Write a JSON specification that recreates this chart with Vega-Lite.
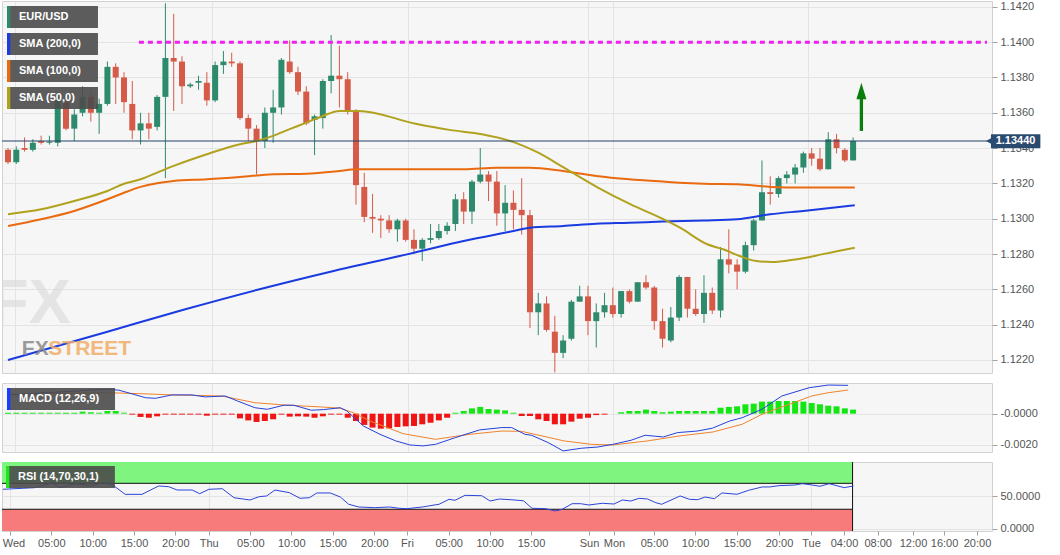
{
  "$schema": "https://vega.github.io/schema/vega-lite/v6.json",
  "background": "#ffffff",
  "padding": 0,
  "spacing": 10,
  "bounds": "flush",
  "config": {
    "font": "Liberation Sans",
    "view": {"fill": "#f6f6f6", "stroke": "#d2d2d2"},
    "axis": {"title": null, "labelColor": "#555555", "labelFontSize": 11, "labelFont": "Liberation Sans", "tickColor": "#a0a0a0", "tickSize": 5, "gridColor": "#e4e4e4", "domain": false, "labelPadding": 3, "labelOverlap": false}
  },
  "resolve": {"scale": {"color": "independent"}, "legend": {"color": "independent"}},
  "datasets": {
    "candles": [
      {"k": 0, "o": 1.1339, "h": 1.1340, "l": 1.1331, "c": 1.1332},
      {"k": 1, "o": 1.1332, "h": 1.1341, "l": 1.1331, "c": 1.1339},
      {"k": 2, "o": 1.1340, "h": 1.1346, "l": 1.1338, "c": 1.1339},
      {"k": 3, "o": 1.1339, "h": 1.1345, "l": 1.1338, "c": 1.1343},
      {"k": 4, "o": 1.1344, "h": 1.1347, "l": 1.1342, "c": 1.1343},
      {"k": 5, "o": 1.1343, "h": 1.1347, "l": 1.1342, "c": 1.13436},
      {"k": 6, "o": 1.1343, "h": 1.1372, "l": 1.1341, "c": 1.1369},
      {"k": 7, "o": 1.1366, "h": 1.1368, "l": 1.1350, "c": 1.1351},
      {"k": 8, "o": 1.1351, "h": 1.1362, "l": 1.1344, "c": 1.1359},
      {"k": 9, "o": 1.1360, "h": 1.1375, "l": 1.1358, "c": 1.1369},
      {"k": 10, "o": 1.1369, "h": 1.1373, "l": 1.1355, "c": 1.1360},
      {"k": 11, "o": 1.1360, "h": 1.1368, "l": 1.1348, "c": 1.1365},
      {"k": 12, "o": 1.1365, "h": 1.1389, "l": 1.1364, "c": 1.1386},
      {"k": 13, "o": 1.1386, "h": 1.1388, "l": 1.1365, "c": 1.1380},
      {"k": 14, "o": 1.1380, "h": 1.1383, "l": 1.1360, "c": 1.1366},
      {"k": 15, "o": 1.1365, "h": 1.1378, "l": 1.1345, "c": 1.1350},
      {"k": 16, "o": 1.1350, "h": 1.1360, "l": 1.1342, "c": 1.1354},
      {"k": 17, "o": 1.1354, "h": 1.1360, "l": 1.1345, "c": 1.1351},
      {"k": 18, "o": 1.1352, "h": 1.1370, "l": 1.1350, "c": 1.1369},
      {"k": 19, "o": 1.1369, "h": 1.1422, "l": 1.1323, "c": 1.1391},
      {"k": 20, "o": 1.1391, "h": 1.1416, "l": 1.1361, "c": 1.1389},
      {"k": 21, "o": 1.1389, "h": 1.1392, "l": 1.1365, "c": 1.1375},
      {"k": 22, "o": 1.1375, "h": 1.1377, "l": 1.1374, "c": 1.1376},
      {"k": 23, "o": 1.1377, "h": 1.1381, "l": 1.1373, "c": 1.1378},
      {"k": 24, "o": 1.1377, "h": 1.1383, "l": 1.1364, "c": 1.1367},
      {"k": 25, "o": 1.1367, "h": 1.1389, "l": 1.1366, "c": 1.1387},
      {"k": 26, "o": 1.1387, "h": 1.1395, "l": 1.1382, "c": 1.1389},
      {"k": 27, "o": 1.1389, "h": 1.1394, "l": 1.1386, "c": 1.1388},
      {"k": 28, "o": 1.1388, "h": 1.1389, "l": 1.1356, "c": 1.1357},
      {"k": 29, "o": 1.1357, "h": 1.1359, "l": 1.1344, "c": 1.1351},
      {"k": 30, "o": 1.1351, "h": 1.1353, "l": 1.1325, "c": 1.1344},
      {"k": 31, "o": 1.1344, "h": 1.1363, "l": 1.1340, "c": 1.1360},
      {"k": 32, "o": 1.1360, "h": 1.1373, "l": 1.1343, "c": 1.1363},
      {"k": 33, "o": 1.1363, "h": 1.1391, "l": 1.1359, "c": 1.1390},
      {"k": 34, "o": 1.1389, "h": 1.1401, "l": 1.1382, "c": 1.1383},
      {"k": 35, "o": 1.1383, "h": 1.1386, "l": 1.1370, "c": 1.1372},
      {"k": 36, "o": 1.1372, "h": 1.1375, "l": 1.1353, "c": 1.1354},
      {"k": 37, "o": 1.1356, "h": 1.1359, "l": 1.1336, "c": 1.1358},
      {"k": 38, "o": 1.1357, "h": 1.1379, "l": 1.1351, "c": 1.1378},
      {"k": 39, "o": 1.1378, "h": 1.1404, "l": 1.1371, "c": 1.1381},
      {"k": 40, "o": 1.1381, "h": 1.1398, "l": 1.1363, "c": 1.1379},
      {"k": 41, "o": 1.1379, "h": 1.1383, "l": 1.1359, "c": 1.1361},
      {"k": 42, "o": 1.1361, "h": 1.1362, "l": 1.1308, "c": 1.1319},
      {"k": 43, "o": 1.1318, "h": 1.1326, "l": 1.1298, "c": 1.1301},
      {"k": 44, "o": 1.1301, "h": 1.1314, "l": 1.1292, "c": 1.1300},
      {"k": 45, "o": 1.1300, "h": 1.1302, "l": 1.1289, "c": 1.1299},
      {"k": 46, "o": 1.1299, "h": 1.1302, "l": 1.1292, "c": 1.1294},
      {"k": 47, "o": 1.1294, "h": 1.1300, "l": 1.1287, "c": 1.1299},
      {"k": 48, "o": 1.1299, "h": 1.1300, "l": 1.1287, "c": 1.1288},
      {"k": 49, "o": 1.1288, "h": 1.1294, "l": 1.1281, "c": 1.1283},
      {"k": 50, "o": 1.1283, "h": 1.1289, "l": 1.1276, "c": 1.1288},
      {"k": 51, "o": 1.1288, "h": 1.1297, "l": 1.1286, "c": 1.1289},
      {"k": 52, "o": 1.1289, "h": 1.1297, "l": 1.1288, "c": 1.1293},
      {"k": 53, "o": 1.1293, "h": 1.1298, "l": 1.1291, "c": 1.1296},
      {"k": 54, "o": 1.1297, "h": 1.1314, "l": 1.1293, "c": 1.1311},
      {"k": 55, "o": 1.1311, "h": 1.1315, "l": 1.1297, "c": 1.1304},
      {"k": 56, "o": 1.1304, "h": 1.1322, "l": 1.1297, "c": 1.1321},
      {"k": 57, "o": 1.1321, "h": 1.1340, "l": 1.1320, "c": 1.1325},
      {"k": 58, "o": 1.1325, "h": 1.1327, "l": 1.1310, "c": 1.1321},
      {"k": 59, "o": 1.1321, "h": 1.1327, "l": 1.1296, "c": 1.1303},
      {"k": 60, "o": 1.1303, "h": 1.1319, "l": 1.1293, "c": 1.1309},
      {"k": 61, "o": 1.1309, "h": 1.1316, "l": 1.1294, "c": 1.1305},
      {"k": 62, "o": 1.1305, "h": 1.1323, "l": 1.1291, "c": 1.1302},
      {"k": 63, "o": 1.1302, "h": 1.1305, "l": 1.1238, "c": 1.1247},
      {"k": 64, "o": 1.1247, "h": 1.1258, "l": 1.1234, "c": 1.1252},
      {"k": 65, "o": 1.1252, "h": 1.1256, "l": 1.1236, "c": 1.1237},
      {"k": 66, "o": 1.1236, "h": 1.1245, "l": 1.1213, "c": 1.1224},
      {"k": 67, "o": 1.1224, "h": 1.1234, "l": 1.1221, "c": 1.1231},
      {"k": 68, "o": 1.1232, "h": 1.1254, "l": 1.1231, "c": 1.1253},
      {"k": 69, "o": 1.1253, "h": 1.1262, "l": 1.1253, "c": 1.1256},
      {"k": 70, "o": 1.1256, "h": 1.1262, "l": 1.1234, "c": 1.1242},
      {"k": 71, "o": 1.1242, "h": 1.1252, "l": 1.1227, "c": 1.1247},
      {"k": 72, "o": 1.1247, "h": 1.1258, "l": 1.1244, "c": 1.1251},
      {"k": 73, "o": 1.1251, "h": 1.1261, "l": 1.1244, "c": 1.1246},
      {"k": 74, "o": 1.1246, "h": 1.1259, "l": 1.1244, "c": 1.1259},
      {"k": 75, "o": 1.1259, "h": 1.1260, "l": 1.1252, "c": 1.1253},
      {"k": 76, "o": 1.1253, "h": 1.1264, "l": 1.1253, "c": 1.1264},
      {"k": 77, "o": 1.1264, "h": 1.1268, "l": 1.1260, "c": 1.1261},
      {"k": 78, "o": 1.1261, "h": 1.1262, "l": 1.1237, "c": 1.1242},
      {"k": 79, "o": 1.1242, "h": 1.1249, "l": 1.1227, "c": 1.1232},
      {"k": 80, "o": 1.1231, "h": 1.1250, "l": 1.1230, "c": 1.1244},
      {"k": 81, "o": 1.1244, "h": 1.1268, "l": 1.1242, "c": 1.1267},
      {"k": 82, "o": 1.1267, "h": 1.1267, "l": 1.1244, "c": 1.1249},
      {"k": 83, "o": 1.1249, "h": 1.1260, "l": 1.1245, "c": 1.1246},
      {"k": 84, "o": 1.1246, "h": 1.1268, "l": 1.1241, "c": 1.1258},
      {"k": 85, "o": 1.1258, "h": 1.1261, "l": 1.1246, "c": 1.1248},
      {"k": 86, "o": 1.1248, "h": 1.1284, "l": 1.1244, "c": 1.1277},
      {"k": 87, "o": 1.1277, "h": 1.1294, "l": 1.1269, "c": 1.1274},
      {"k": 88, "o": 1.1274, "h": 1.1277, "l": 1.1260, "c": 1.1270},
      {"k": 89, "o": 1.1270, "h": 1.1287, "l": 1.1269, "c": 1.1285},
      {"k": 90, "o": 1.1285, "h": 1.1300, "l": 1.1282, "c": 1.1299},
      {"k": 91, "o": 1.1299, "h": 1.1333, "l": 1.1299, "c": 1.1315},
      {"k": 92, "o": 1.1315, "h": 1.1324, "l": 1.1308, "c": 1.1314},
      {"k": 93, "o": 1.1314, "h": 1.1324, "l": 1.1312, "c": 1.1323},
      {"k": 94, "o": 1.1323, "h": 1.1327, "l": 1.1320, "c": 1.1325},
      {"k": 95, "o": 1.1325, "h": 1.1331, "l": 1.1320, "c": 1.1329},
      {"k": 96, "o": 1.1329, "h": 1.1338, "l": 1.1326, "c": 1.1337},
      {"k": 97, "o": 1.1337, "h": 1.1340, "l": 1.1330, "c": 1.1334},
      {"k": 98, "o": 1.1334, "h": 1.1340, "l": 1.1327, "c": 1.1328},
      {"k": 99, "o": 1.1328, "h": 1.1349, "l": 1.1328, "c": 1.1345},
      {"k": 100, "o": 1.1345, "h": 1.1348, "l": 1.1337, "c": 1.1340},
      {"k": 101, "o": 1.1339, "h": 1.1340, "l": 1.1332, "c": 1.1333},
      {"k": 102, "o": 1.1333, "h": 1.1346, "l": 1.1333, "c": 1.1344}
    ],
    "sma": [
      {"series": "SMA (200,0)", "k": 0, "v": 1.1220},
      {"series": "SMA (200,0)", "k": 12, "v": 1.1236},
      {"series": "SMA (200,0)", "k": 21.4, "v": 1.12487},
      {"series": "SMA (200,0)", "k": 30, "v": 1.12596},
      {"series": "SMA (200,0)", "k": 39.3, "v": 1.12704},
      {"series": "SMA (200,0)", "k": 49, "v": 1.12807},
      {"series": "SMA (200,0)", "k": 55, "v": 1.12874},
      {"series": "SMA (200,0)", "k": 61, "v": 1.1293},
      {"series": "SMA (200,0)", "k": 63, "v": 1.12949},
      {"series": "SMA (200,0)", "k": 67, "v": 1.12959},
      {"series": "SMA (200,0)", "k": 71, "v": 1.12972},
      {"series": "SMA (200,0)", "k": 75, "v": 1.12977},
      {"series": "SMA (200,0)", "k": 79, "v": 1.12984},
      {"series": "SMA (200,0)", "k": 84, "v": 1.1299},
      {"series": "SMA (200,0)", "k": 88, "v": 1.12997},
      {"series": "SMA (200,0)", "k": 92, "v": 1.13025},
      {"series": "SMA (200,0)", "k": 96, "v": 1.13044},
      {"series": "SMA (200,0)", "k": 102.2, "v": 1.13076},
      {"series": "SMA (100,0)", "k": 0, "v": 1.12959},
      {"series": "SMA (100,0)", "k": 4, "v": 1.12997},
      {"series": "SMA (100,0)", "k": 8, "v": 1.13044},
      {"series": "SMA (100,0)", "k": 12, "v": 1.1311},
      {"series": "SMA (100,0)", "k": 14, "v": 1.13147},
      {"series": "SMA (100,0)", "k": 16, "v": 1.1318},
      {"series": "SMA (100,0)", "k": 18, "v": 1.13201},
      {"series": "SMA (100,0)", "k": 20, "v": 1.13214},
      {"series": "SMA (100,0)", "k": 24, "v": 1.13223},
      {"series": "SMA (100,0)", "k": 28, "v": 1.13236},
      {"series": "SMA (100,0)", "k": 32, "v": 1.13252},
      {"series": "SMA (100,0)", "k": 36, "v": 1.13255},
      {"series": "SMA (100,0)", "k": 40, "v": 1.1327},
      {"series": "SMA (100,0)", "k": 42, "v": 1.1328},
      {"series": "SMA (100,0)", "k": 47, "v": 1.1328},
      {"series": "SMA (100,0)", "k": 55, "v": 1.1328},
      {"series": "SMA (100,0)", "k": 59, "v": 1.13289},
      {"series": "SMA (100,0)", "k": 63, "v": 1.13289},
      {"series": "SMA (100,0)", "k": 67, "v": 1.1327},
      {"series": "SMA (100,0)", "k": 71, "v": 1.13242},
      {"series": "SMA (100,0)", "k": 75, "v": 1.13223},
      {"series": "SMA (100,0)", "k": 79, "v": 1.1321},
      {"series": "SMA (100,0)", "k": 81, "v": 1.13204},
      {"series": "SMA (100,0)", "k": 84, "v": 1.13198},
      {"series": "SMA (100,0)", "k": 88, "v": 1.13195},
      {"series": "SMA (100,0)", "k": 92, "v": 1.1318},
      {"series": "SMA (100,0)", "k": 96, "v": 1.13176},
      {"series": "SMA (100,0)", "k": 102.2, "v": 1.13176},
      {"series": "SMA (50,0)", "k": 0, "v": 1.13025},
      {"series": "SMA (50,0)", "k": 4, "v": 1.13053},
      {"series": "SMA (50,0)", "k": 8, "v": 1.1310},
      {"series": "SMA (50,0)", "k": 12, "v": 1.13157},
      {"series": "SMA (50,0)", "k": 14, "v": 1.13198},
      {"series": "SMA (50,0)", "k": 16, "v": 1.13223},
      {"series": "SMA (50,0)", "k": 18, "v": 1.13261},
      {"series": "SMA (50,0)", "k": 20, "v": 1.13299},
      {"series": "SMA (50,0)", "k": 24, "v": 1.13365},
      {"series": "SMA (50,0)", "k": 28, "v": 1.13422},
      {"series": "SMA (50,0)", "k": 30, "v": 1.1344},
      {"series": "SMA (50,0)", "k": 32, "v": 1.13469},
      {"series": "SMA (50,0)", "k": 34, "v": 1.13507},
      {"series": "SMA (50,0)", "k": 36, "v": 1.13544},
      {"series": "SMA (50,0)", "k": 38, "v": 1.13582},
      {"series": "SMA (50,0)", "k": 40, "v": 1.1361},
      {"series": "SMA (50,0)", "k": 42.3, "v": 1.1361},
      {"series": "SMA (50,0)", "k": 49.2, "v": 1.13538},
      {"series": "SMA (50,0)", "k": 53.3, "v": 1.13503},
      {"series": "SMA (50,0)", "k": 57.2, "v": 1.13478},
      {"series": "SMA (50,0)", "k": 61.2, "v": 1.13431},
      {"series": "SMA (50,0)", "k": 64, "v": 1.13374},
      {"series": "SMA (50,0)", "k": 67.1, "v": 1.13289},
      {"series": "SMA (50,0)", "k": 71.2, "v": 1.13176},
      {"series": "SMA (50,0)", "k": 75.1, "v": 1.13082},
      {"series": "SMA (50,0)", "k": 79.1, "v": 1.12997},
      {"series": "SMA (50,0)", "k": 81.1, "v": 1.12949},
      {"series": "SMA (50,0)", "k": 84.4, "v": 1.12855},
      {"series": "SMA (50,0)", "k": 86.3, "v": 1.12827},
      {"series": "SMA (50,0)", "k": 88.3, "v": 1.12789},
      {"series": "SMA (50,0)", "k": 90.3, "v": 1.1276},
      {"series": "SMA (50,0)", "k": 92.2, "v": 1.12755},
      {"series": "SMA (50,0)", "k": 94.3, "v": 1.12764},
      {"series": "SMA (50,0)", "k": 96.3, "v": 1.12779},
      {"series": "SMA (50,0)", "k": 98.2, "v": 1.12798},
      {"series": "SMA (50,0)", "k": 100.2, "v": 1.12817},
      {"series": "SMA (50,0)", "k": 102.2, "v": 1.12836}
    ],
    "macd": [
      {"series": "MACD", "k": 0, "v": 0.0012},
      {"series": "MACD", "k": 12, "v": 0.00156},
      {"series": "MACD", "k": 13.4, "v": 0.0015},
      {"series": "MACD", "k": 16.6, "v": 0.00102},
      {"series": "MACD", "k": 17.8, "v": 0.00098},
      {"series": "MACD", "k": 19.8, "v": 0.0012},
      {"series": "MACD", "k": 22.2, "v": 0.0012},
      {"series": "MACD", "k": 23.8, "v": 0.00107},
      {"series": "MACD", "k": 26.2, "v": 0.00113},
      {"series": "MACD", "k": 27.7, "v": 0.00081},
      {"series": "MACD", "k": 29.8, "v": 0.00038},
      {"series": "MACD", "k": 31.3, "v": 0.00028},
      {"series": "MACD", "k": 33.3, "v": 0.00054},
      {"series": "MACD", "k": 34.5, "v": 0.00054},
      {"series": "MACD", "k": 36.6, "v": 0.00022},
      {"series": "MACD", "k": 38.1, "v": 0.00026},
      {"series": "MACD", "k": 40.1, "v": 0.00038},
      {"series": "MACD", "k": 40.9, "v": 0.00017},
      {"series": "MACD", "k": 42.9, "v": -0.00079},
      {"series": "MACD", "k": 44.9, "v": -0.00132},
      {"series": "MACD", "k": 46.8, "v": -0.00174},
      {"series": "MACD", "k": 48.5, "v": -0.002},
      {"series": "MACD", "k": 50.1, "v": -0.00206},
      {"series": "MACD", "k": 51.6, "v": -0.00196},
      {"series": "MACD", "k": 54, "v": -0.00153},
      {"series": "MACD", "k": 56.9, "v": -0.00104},
      {"series": "MACD", "k": 59.6, "v": -0.00089},
      {"series": "MACD", "k": 60.8, "v": -0.00089},
      {"series": "MACD", "k": 62.4, "v": -0.00132},
      {"series": "MACD", "k": 63.2, "v": -0.00138},
      {"series": "MACD", "k": 65.2, "v": -0.00185},
      {"series": "MACD", "k": 67, "v": -0.00238},
      {"series": "MACD", "k": 69.2, "v": -0.00221},
      {"series": "MACD", "k": 71.2, "v": -0.00213},
      {"series": "MACD", "k": 73, "v": -0.00196},
      {"series": "MACD", "k": 75.2, "v": -0.0017},
      {"series": "MACD", "k": 76.9, "v": -0.00138},
      {"series": "MACD", "k": 79.1, "v": -0.00149},
      {"series": "MACD", "k": 80.8, "v": -0.00121},
      {"series": "MACD", "k": 83.2, "v": -0.00111},
      {"series": "MACD", "k": 85, "v": -0.00093},
      {"series": "MACD", "k": 87.1, "v": -0.00047},
      {"series": "MACD", "k": 88.6, "v": -0.00026},
      {"series": "MACD", "k": 91, "v": 0.00028},
      {"series": "MACD", "k": 93.4, "v": 0.00113},
      {"series": "MACD", "k": 96.7, "v": 0.00166},
      {"series": "MACD", "k": 99, "v": 0.00183},
      {"series": "MACD", "k": 101.4, "v": 0.00181},
      {"series": "Signal", "k": 0, "v": 0.0012},
      {"series": "Signal", "k": 12, "v": 0.00134},
      {"series": "Signal", "k": 15.8, "v": 0.00128},
      {"series": "Signal", "k": 19.8, "v": 0.0012},
      {"series": "Signal", "k": 25.8, "v": 0.00113},
      {"series": "Signal", "k": 29.8, "v": 0.0007},
      {"series": "Signal", "k": 33.7, "v": 0.00054},
      {"series": "Signal", "k": 37.8, "v": 0.00043},
      {"series": "Signal", "k": 40.1, "v": 0.00035},
      {"series": "Signal", "k": 41.7, "v": 0.00006},
      {"series": "Signal", "k": 43.7, "v": -0.00047},
      {"series": "Signal", "k": 47.7, "v": -0.00128},
      {"series": "Signal", "k": 51.6, "v": -0.00164},
      {"series": "Signal", "k": 55.7, "v": -0.00132},
      {"series": "Signal", "k": 59.6, "v": -0.00111},
      {"series": "Signal", "k": 62, "v": -0.00113},
      {"series": "Signal", "k": 67.1, "v": -0.00174},
      {"series": "Signal", "k": 70.4, "v": -0.00196},
      {"series": "Signal", "k": 73, "v": -0.002},
      {"series": "Signal", "k": 77.2, "v": -0.00174},
      {"series": "Signal", "k": 81.1, "v": -0.00142},
      {"series": "Signal", "k": 85.1, "v": -0.00117},
      {"series": "Signal", "k": 88.6, "v": -0.00068},
      {"series": "Signal", "k": 91, "v": -0.00004},
      {"series": "Signal", "k": 94.3, "v": 0.0006},
      {"series": "Signal", "k": 97, "v": 0.00113},
      {"series": "Signal", "k": 99, "v": 0.00134},
      {"series": "Signal", "k": 101.4, "v": 0.00151}
    ],
    "hist": [
      {"k": 0, "v": 0.00006}, {"k": 1, "v": 0.00006}, {"k": 2, "v": 0.00006}, {"k": 3, "v": 0.00006},
      {"k": 4, "v": 0.00006}, {"k": 5, "v": 0.00006}, {"k": 6, "v": 0.00006}, {"k": 7, "v": 0.00006},
      {"k": 8, "v": 0.00006}, {"k": 9, "v": 0.00013}, {"k": 10, "v": 0.00009}, {"k": 11, "v": 0.00006},
      {"k": 12, "v": 0.00017}, {"k": 13, "v": 0.00017}, {"k": 14, "v": 0.00006}, {"k": 15, "v": -0.00006},
      {"k": 16, "v": -0.00021}, {"k": 17, "v": -0.00026}, {"k": 18, "v": -0.00017}, {"k": 19, "v": -0.00006},
      {"k": 20, "v": -0.00006}, {"k": 21, "v": -0.00006}, {"k": 22, "v": -0.00006}, {"k": 23, "v": -0.00006},
      {"k": 24, "v": -0.00013}, {"k": 25, "v": -0.00006}, {"k": 26, "v": -0.00006}, {"k": 27, "v": -0.00006},
      {"k": 28, "v": -0.0003}, {"k": 29, "v": -0.00043}, {"k": 30, "v": -0.00053}, {"k": 31, "v": -0.00047},
      {"k": 32, "v": -0.00036}, {"k": 33, "v": -0.00006}, {"k": 34, "v": -0.00019}, {"k": 35, "v": -0.00017},
      {"k": 36, "v": -0.00019}, {"k": 37, "v": -0.00026}, {"k": 38, "v": -0.00017}, {"k": 39, "v": -0.00006},
      {"k": 40, "v": -0.00006}, {"k": 41, "v": -0.00026}, {"k": 42, "v": -0.00047}, {"k": 43, "v": -0.00072},
      {"k": 44, "v": -0.00089}, {"k": 45, "v": -0.00096}, {"k": 46, "v": -0.00094}, {"k": 47, "v": -0.00085},
      {"k": 48, "v": -0.00081}, {"k": 49, "v": -0.00079}, {"k": 50, "v": -0.00068}, {"k": 51, "v": -0.00058},
      {"k": 52, "v": -0.00043}, {"k": 53, "v": -0.00026}, {"k": 54, "v": 0.00006}, {"k": 55, "v": 0.00017},
      {"k": 56, "v": 0.00034}, {"k": 57, "v": 0.00043}, {"k": 58, "v": 0.0003}, {"k": 59, "v": 0.00026},
      {"k": 60, "v": 0.00021}, {"k": 61, "v": 0.00006}, {"k": 62, "v": -0.00015}, {"k": 63, "v": -0.00015},
      {"k": 64, "v": -0.00036}, {"k": 65, "v": -0.00047}, {"k": 66, "v": -0.00068}, {"k": 67, "v": -0.00068},
      {"k": 68, "v": -0.00051}, {"k": 69, "v": -0.00032}, {"k": 70, "v": -0.00026}, {"k": 71, "v": -0.00009},
      {"k": 72, "v": -0.00006}, {"k": 74, "v": 0.00009}, {"k": 75, "v": 0.00017},
      {"k": 76, "v": 0.00017}, {"k": 77, "v": 0.00026}, {"k": 78, "v": 0.00017}, {"k": 79, "v": 0.00009},
      {"k": 80, "v": 0.00013}, {"k": 81, "v": 0.00017}, {"k": 82, "v": 0.00017}, {"k": 83, "v": 0.00017},
      {"k": 84, "v": 0.00017}, {"k": 85, "v": 0.00017}, {"k": 86, "v": 0.00038}, {"k": 87, "v": 0.00043},
      {"k": 88, "v": 0.00047}, {"k": 89, "v": 0.0006}, {"k": 90, "v": 0.00064}, {"k": 91, "v": 0.00077},
      {"k": 92, "v": 0.00077}, {"k": 93, "v": 0.00081}, {"k": 94, "v": 0.00081}, {"k": 95, "v": 0.00081},
      {"k": 96, "v": 0.00077}, {"k": 97, "v": 0.00068}, {"k": 98, "v": 0.0006}, {"k": 99, "v": 0.00051},
      {"k": 100, "v": 0.00047}, {"k": 101, "v": 0.00034}, {"k": 102, "v": 0.00026}
    ],
    "rsi": [
      {"k": 0, "v": 60.8}, {"k": 3.8, "v": 63.3}, {"k": 5.9, "v": 71}, {"k": 6.8, "v": 63.3},
      {"k": 8.6, "v": 69.4}, {"k": 10.6, "v": 65.9}, {"k": 11.8, "v": 71}, {"k": 13, "v": 68.5},
      {"k": 14.6, "v": 53}, {"k": 16.6, "v": 53}, {"k": 18.6, "v": 65.9}, {"k": 19.8, "v": 64.8},
      {"k": 20.8, "v": 59.7}, {"k": 22.6, "v": 59.7}, {"k": 23.5, "v": 54}, {"k": 24.6, "v": 60.8},
      {"k": 26.2, "v": 61.7}, {"k": 27.6, "v": 47.8}, {"k": 29.5, "v": 44.3}, {"k": 30.6, "v": 49.4},
      {"k": 31.5, "v": 50.5}, {"k": 32.5, "v": 59.7}, {"k": 34.2, "v": 55.6}, {"k": 35.5, "v": 46.9},
      {"k": 36.6, "v": 47.8}, {"k": 37.5, "v": 55.1}, {"k": 39.1, "v": 55.1}, {"k": 40.3, "v": 48.9},
      {"k": 41.3, "v": 37.7}, {"k": 42.5, "v": 33.5}, {"k": 44.4, "v": 32.4}, {"k": 46.2, "v": 33.5},
      {"k": 47.3, "v": 31.5}, {"k": 48.3, "v": 30.9}, {"k": 50.1, "v": 33.5}, {"k": 52.1, "v": 37.7},
      {"k": 53.3, "v": 45.4}, {"k": 54, "v": 43.8}, {"k": 55.2, "v": 51.5}, {"k": 57.2, "v": 50.9},
      {"k": 58.2, "v": 42.7}, {"k": 59.3, "v": 45.8}, {"k": 61.1, "v": 44.3}, {"k": 62.2, "v": 43},
      {"k": 63.2, "v": 31.5}, {"k": 64.8, "v": 30.9}, {"k": 66, "v": 27.3}, {"k": 66.8, "v": 29.9},
      {"k": 68, "v": 38.6}, {"k": 69, "v": 38.6}, {"k": 70, "v": 36.6}, {"k": 71.6, "v": 39.2},
      {"k": 73, "v": 38.1}, {"k": 74, "v": 44.3}, {"k": 75, "v": 42.7}, {"k": 76, "v": 46.9},
      {"k": 77, "v": 45.8}, {"k": 78, "v": 40.1}, {"k": 78.7, "v": 37.7}, {"k": 80.9, "v": 50.5},
      {"k": 82, "v": 45.4}, {"k": 83, "v": 44.8}, {"k": 83.9, "v": 48.9}, {"k": 85, "v": 46.3},
      {"k": 85.9, "v": 55.1}, {"k": 87.7, "v": 53.1}, {"k": 89.1, "v": 59.3}, {"k": 90.7, "v": 64.4},
      {"k": 91.6, "v": 64.4}, {"k": 92.7, "v": 66.4}, {"k": 94.6, "v": 67.4}, {"k": 95.5, "v": 69.4},
      {"k": 96.7, "v": 67.4}, {"k": 97.6, "v": 65.4}, {"k": 98.7, "v": 69.4}, {"k": 100.5, "v": 63.3},
      {"k": 101.6, "v": 65.9}
    ]
  },
  "vconcat": [
    {
      "width": 990,
      "height": 372,
      "layer": [
        {
          "data": {"name": "candles"},
          "mark": {"type": "rule", "strokeWidth": 1},
          "encoding": {
            "x": {"field": "k", "type": "quantitative", "scale": {"domain": [-0.12, 118.16], "nice": false, "zero": false},
              "axis": {"values": [0.87, 24.58, 48.27, 70.01, 73, 96.54], "tickCount": 60, "labels": false, "ticks": false, "tickSize": 0, "labelPadding": 0, "grid": true}},
            "y": {"field": "l", "type": "quantitative", "scale": {"domain": [1.12126, 1.14233], "nice": false, "zero": false},
              "axis": {"orient": "right", "values": [1.122, 1.124, 1.126, 1.128, 1.13, 1.132, 1.134, 1.136, 1.138, 1.14, 1.142], "tickCount": 60, "format": ".4f", "grid": true}},
            "y2": {"field": "h"},
            "color": {"condition": {"test": "datum.c < datum.o", "value": "#d65a48"}, "value": "#2e8a6c"}
          }
        },
        {
          "data": {"name": "candles"},
          "mark": {"type": "bar", "width": 6},
          "encoding": {
            "x": {"field": "k", "type": "quantitative"},
            "y": {"field": "o", "type": "quantitative"},
            "y2": {"field": "c"},
            "color": {"condition": {"test": "datum.c < datum.o", "value": "#d65a48"}, "value": "#2e8a6c"}
          }
        },
        {
          "data": {"name": "sma"},
          "mark": {"type": "line", "strokeWidth": 2, "interpolate": "monotone"},
          "encoding": {
            "x": {"field": "k", "type": "quantitative"},
            "y": {"field": "v", "type": "quantitative"},
            "color": {"field": "series", "type": "nominal",
              "scale": {"domain": ["EUR/USD", "SMA (200,0)", "SMA (100,0)", "SMA (50,0)"], "range": ["#2e8a6c", "#1a3be0", "#ea6a10", "#b1a21e"]},
              "legend": {"orient": "top-left", "offset": 5, "title": null, "padding": 0,
                "symbolType": "M-1,-1H-0.7V1H-1ZM7.27,0L7.27,0.01", "symbolSize": 484, "symbolStrokeWidth": 0,
                "labelColor": "#ffffff", "labelFontSize": 11, "labelFontWeight": "bold", "labelFont": "Liberation Sans", "labelOffset": -10, "rowPadding": 5,
                "encode": {
                  "symbols": {"update": {"fill": {"signal": "datum.label == 'EUR/USD' ? '#2e8a6c' : datum.label == 'SMA (200,0)' ? '#1a3be0' : datum.label == 'SMA (100,0)' ? '#ea6a10' : '#b1a21e'"}, "fillOpacity": {"value": 1}, "opacity": {"value": 1}, "stroke": {"value": "transparent"}}},
                  "entries": {"update": {"fill": {"value": "#4b4b4b"}, "fillOpacity": {"value": 0.9}}}}}
            }
          }
        },
        {
          "data": {"values": [{}]},
          "mark": {"type": "rule", "color": "#f020f0", "strokeWidth": 3, "strokeDash": [5, 4]},
          "encoding": {
            "x": {"datum": 15.8, "type": "quantitative"},
            "x2": {"datum": 118.16},
            "y": {"datum": 1.14, "type": "quantitative"}
          }
        },
        {
          "data": {"values": [{}]},
          "mark": {"type": "rule", "color": "#22406a", "strokeWidth": 1},
          "encoding": {"y": {"datum": 1.1344, "type": "quantitative"}}
        },
        {
          "data": {"values": [{}]},
          "mark": {"type": "rule", "color": "#0b7d0b", "strokeWidth": 3.3},
          "encoding": {
            "x": {"datum": 103, "type": "quantitative"},
            "y": {"datum": 1.13497, "type": "quantitative"},
            "y2": {"datum": 1.13678}
          }
        },
        {
          "data": {"values": [{}]},
          "mark": {"type": "point", "shape": "M0,-1L0.6,1L-0.6,1Z", "size": 276, "filled": true, "opacity": 1, "color": "#0b7d0b"},
          "encoding": {
            "x": {"datum": 103, "type": "quantitative"},
            "y": {"datum": 1.13723, "type": "quantitative"}
          }
        },
        {
          "data": {"values": [{}]},
          "mark": {"type": "rect", "color": "#2b4a70"},
          "encoding": {
            "x": {"datum": 118.64, "type": "quantitative"},
            "x2": {"datum": 124.6},
            "y": {"datum": 1.13399, "type": "quantitative"},
            "y2": {"datum": 1.13478}
          }
        },
        {
          "data": {"values": [{}]},
          "mark": {"type": "point", "shape": "triangle-left", "size": 45, "filled": true, "opacity": 1, "color": "#2b4a70"},
          "encoding": {
            "x": {"datum": 118.4, "type": "quantitative"},
            "y": {"datum": 1.1344, "type": "quantitative"}
          }
        },
        {
          "data": {"values": [{}]},
          "mark": {"type": "text", "text": "1.13440", "color": "#ffffff", "fontSize": 11, "fontWeight": "bold", "align": "center", "baseline": "middle"},
          "encoding": {
            "x": {"datum": 121.6, "type": "quantitative"},
            "y": {"datum": 1.1344, "type": "quantitative"}
          }
        },
        {
          "data": {"values": [{}]},
          "mark": {"type": "text", "text": "FX", "color": "#d9d9d9", "opacity": 0.6, "fontSize": 63, "fontWeight": "bold", "align": "left", "baseline": "alphabetic", "clip": true},
          "encoding": {
            "x": {"datum": -2.15, "type": "quantitative"},
            "y": {"datum": 1.1241, "type": "quantitative"}
          }
        },
        {
          "data": {"values": [{}]},
          "mark": {"type": "text", "text": "FX", "color": "#8a8a8a", "opacity": 0.85, "font": "Liberation Sans", "fontSize": 21, "fontWeight": "bold", "align": "left", "baseline": "alphabetic"},
          "encoding": {
            "x": {"datum": 1.67, "type": "quantitative"},
            "y": {"datum": 1.12228, "type": "quantitative"}
          }
        },
        {
          "data": {"values": [{}]},
          "mark": {"type": "text", "text": "STREET", "color": "#f2ad66", "opacity": 0.85, "font": "Liberation Sans", "fontSize": 21, "fontWeight": "bold", "align": "left", "baseline": "alphabetic"},
          "encoding": {
            "x": {"datum": 4.87, "type": "quantitative"},
            "y": {"datum": 1.12228, "type": "quantitative"}
          }
        }
      ]
    },
    {
      "width": 990,
      "height": 69,
      "layer": [
        {
          "data": {"name": "hist"},
          "mark": {"type": "bar", "width": 6},
          "encoding": {
            "x": {"field": "k", "type": "quantitative", "scale": {"domain": [-0.12, 118.16], "nice": false, "zero": false},
              "axis": {"values": [0.87, 24.58, 48.27, 70.01, 73, 96.54], "tickCount": 60, "labels": false, "ticks": false, "tickSize": 0, "labelPadding": 0, "grid": true}},
            "y": {"field": "v", "type": "quantitative", "scale": {"domain": [-0.00245, 0.00196], "nice": false, "zero": false},
              "axis": {"orient": "right", "values": [0, -0.002], "labelExpr": "datum.value == 0 ? '-0.0000' : '-0.0020'", "grid": true}},
            "y2": {"datum": 0},
            "color": {"condition": {"test": "datum.v < 0", "value": "#f01414"}, "value": "#14e614"}
          }
        },
        {
          "data": {"name": "macd"},
          "transform": [{"filter": "datum.series == 'Signal'"}],
          "mark": {"type": "line", "strokeWidth": 1, "color": "#f0842c"},
          "encoding": {
            "x": {"field": "k", "type": "quantitative"},
            "y": {"field": "v", "type": "quantitative"}
          }
        },
        {
          "data": {"name": "macd"},
          "transform": [{"filter": "datum.series == 'MACD'"}],
          "mark": {"type": "line", "strokeWidth": 1},
          "encoding": {
            "x": {"field": "k", "type": "quantitative"},
            "y": {"field": "v", "type": "quantitative"},
            "color": {"datum": "MACD (12,26,9)", "type": "nominal",
              "scale": {"domain": ["MACD (12,26,9)"], "range": ["#2541dd"]},
              "legend": {"orient": "top-left", "offset": 5, "title": null, "padding": 0,
                "symbolType": "M-1,-1H-0.7V1H-1ZM8.82,0L8.82,0.01", "symbolSize": 484, "symbolStrokeWidth": 0,
                "labelColor": "#ffffff", "labelFontSize": 11, "labelFontWeight": "bold", "labelFont": "Liberation Sans", "labelOffset": -10,
                "encode": {
                  "symbols": {"update": {"fill": {"value": "#1a3cff"}, "fillOpacity": {"value": 1}, "opacity": {"value": 1}, "stroke": {"value": "transparent"}}},
                  "entries": {"update": {"fill": {"value": "#4b4b4b"}, "fillOpacity": {"value": 0.9}}}}}
            }
          }
        }
      ]
    },
    {
      "width": 990,
      "height": 69,
      "layer": [
        {
          "data": {"values": [{}]},
          "mark": {"type": "rect", "color": "#7ff47f"},
          "encoding": {
            "x": {"datum": -0.12, "type": "quantitative", "scale": {"domain": [-0.12, 118.16], "nice": false, "zero": false},
              "axis": {"values": [0.87, 5.77, 10.72, 15.65, 20.59, 24.58, 29.55, 34.44, 39.39, 44.36, 48.27, 53.25, 58.15, 63.08, 70.01, 73, 77.78, 82.68, 87.69, 92.71, 96.54, 100.48, 104.5, 108.72, 112.43, 116.37],
                "tickCount": 60,
                "labelExpr": "['Wed','05:00','10:00','15:00','20:00','Thu','05:00','10:00','15:00','20:00','Fri','05:00','10:00','15:00','Sun','Mon','05:00','10:00','15:00','20:00','Tue','04:00','08:00','12:00','16:00','20:00'][indexof([0.87, 5.77, 10.72, 15.65, 20.59, 24.58, 29.55, 34.44, 39.39, 44.36, 48.27, 53.25, 58.15, 63.08, 70.01, 73, 77.78, 82.68, 87.69, 92.71, 96.54, 100.48, 104.5, 108.72, 112.43, 116.37], datum.value)]",
                "grid": true,
                "gridColor": {"condition": {"test": "indexof([0.87, 24.58, 48.27, 70.01, 73, 96.54], datum.value) < 0", "value": "rgba(0,0,0,0)"}, "value": "#e4e4e4"},
                "tickSize": 4, "labelPadding": 2, "labelOverlap": false, "labelFlush": 10, "labelFlushOffset": 8}},
            "x2": {"datum": 101.5},
            "y": {"datum": 70, "type": "quantitative", "scale": {"domain": [-3.55, 102.9], "nice": false, "zero": false},
              "axis": {"orient": "right", "values": [0, 50], "labelExpr": "datum.value == 0 ? '0.0000' : '50.0000'", "grid": true}},
            "y2": {"datum": 102.9}
          }
        },
        {
          "data": {"values": [{}]},
          "mark": {"type": "rect", "color": "#f77b7b"},
          "encoding": {
            "x": {"datum": -0.12, "type": "quantitative"},
            "x2": {"datum": 101.5},
            "y": {"datum": -3.55, "type": "quantitative"},
            "y2": {"datum": 30}
          }
        },
        {
          "data": {"values": [{}]},
          "mark": {"type": "rule", "color": "#111111", "strokeWidth": 1},
          "encoding": {
            "x": {"datum": -0.12, "type": "quantitative"},
            "x2": {"datum": 101.5},
            "y": {"datum": 70, "type": "quantitative"}
          }
        },
        {
          "data": {"values": [{}]},
          "mark": {"type": "rule", "color": "#111111", "strokeWidth": 1},
          "encoding": {
            "x": {"datum": -0.12, "type": "quantitative"},
            "x2": {"datum": 101.5},
            "y": {"datum": 30, "type": "quantitative"}
          }
        },
        {
          "data": {"values": [{}]},
          "mark": {"type": "rule", "color": "#111111", "strokeWidth": 1},
          "encoding": {
            "x": {"datum": 101.5, "type": "quantitative"},
            "y": {"datum": -3.55, "type": "quantitative"},
            "y2": {"datum": 102.9}
          }
        },
        {
          "data": {"name": "rsi"},
          "mark": {"type": "line", "strokeWidth": 1},
          "encoding": {
            "x": {"field": "k", "type": "quantitative"},
            "y": {"field": "v", "type": "quantitative"},
            "color": {"datum": "RSI (14,70,30,1)", "type": "nominal",
              "scale": {"domain": ["RSI (14,70,30,1)"], "range": ["#2b44d8"]},
              "legend": {"orient": "top-left", "offset": 4, "title": null, "padding": 0,
                "symbolType": "M-1,-1H-0.7V1H-1ZM8.9,0L8.9,0.01", "symbolSize": 484, "symbolStrokeWidth": 0,
                "labelColor": "#ffffff", "labelFontSize": 11, "labelFontWeight": "bold", "labelFont": "Liberation Sans", "labelOffset": -10,
                "encode": {
                  "symbols": {"update": {"fill": {"value": "#1ee61e"}, "fillOpacity": {"value": 1}, "opacity": {"value": 1}, "stroke": {"value": "transparent"}}},
                  "entries": {"update": {"fill": {"value": "#4b4b4b"}, "fillOpacity": {"value": 0.9}}}}}
            }
          }
        }
      ]
    }
  ]
}
